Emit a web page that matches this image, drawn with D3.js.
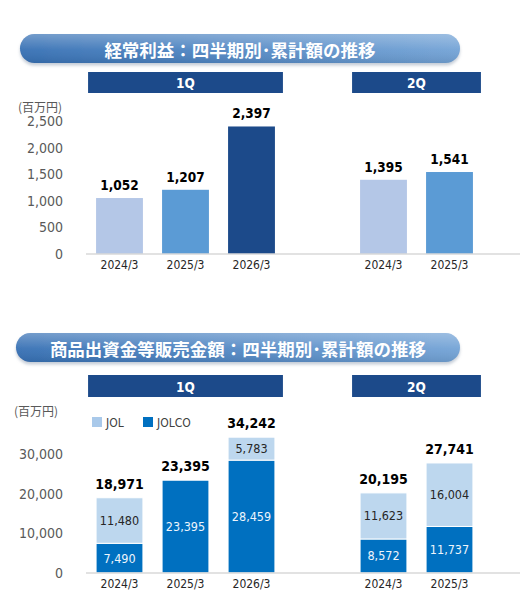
<!DOCTYPE html>
<html>
<head>
<meta charset="utf-8">
<script src="https://cdn.jsdelivr.net/npm/d3@7"></script>
<style>
  body { margin: 0; background: #fff; }
  svg { display: block; }
</style>
</head>
<body>
<svg id="chart" width="525" height="609"></svg>
<script>
// values
const quarters = ["1Q", "1Q", "1Q", "2Q", "2Q"];
const fiscalYears = ["2024/3", "2025/3", "2026/3", "2024/3", "2025/3"];
const ordinaryProfit = [1052, 1207, 2397, 1395, 1541];
const jolcoSales = [7490, 23395, 28459, 8572, 11737];
const jolSales = [11480, 0, 5783, 11623, 16004];
const salesTotals = [18971, 23395, 34242, 20195, 27741];
const profitTicks = [0, 500, 1000, 1500, 2000, 2500];
const salesTicks = [0, 10000, 20000, 30000];
const quarterNames = ["1Q", "2Q"];
const seriesNames = ["JOL", "JOLCO"];

const yearColor = { "2024/3": "#b4c7e7", "2025/3": "#5b9bd5", "2026/3": "#1c4a8a" };
const jolColor = "#bdd7ee";
const jolcoColor = "#0070c0";
const navy = "#1c4a8a";
const latin = "'DejaVu Sans Condensed', 'DejaVu Sans', sans-serif";
const cjk = "'Noto Sans CJK JP', sans-serif";
const fmt = d3.format(",");

const svg = d3.select("#chart");

// slot keys, with an empty slot between the two quarters
const keys = quarters.map((q, i) => q + "|" + fiscalYears[i]);
const slotKeys = keys.slice(0, 3).concat(["gap"], keys.slice(3));

const x = d3.scaleBand()
    .domain(slotKeys)
    .range([86.5, 482.5])
    .paddingInner(0.29)
    .paddingOuter(0.145);

// gradients and shadow for the title pills
const defs = svg.append("defs");
const g1 = defs.append("linearGradient").attr("id", "pill").attr("x1", 0).attr("x2", 1).attr("y1", 0).attr("y2", 0);
g1.append("stop").attr("offset", "0%").attr("stop-color", "#3670b4");
g1.append("stop").attr("offset", "100%").attr("stop-color", "#73a3d6");
const g2 = defs.append("linearGradient").attr("id", "shine").attr("x1", 0).attr("x2", 0).attr("y1", 0).attr("y2", 1);
g2.append("stop").attr("offset", "0%").attr("stop-color", "#fff").attr("stop-opacity", 0.3);
g2.append("stop").attr("offset", "55%").attr("stop-color", "#fff").attr("stop-opacity", 0.05);
g2.append("stop").attr("offset", "100%").attr("stop-color", "#000").attr("stop-opacity", 0.08);
defs.append("filter").attr("id", "shadow").attr("x", "-5%").attr("y", "-30%").attr("width", "110%").attr("height", "170%")
    .append("feDropShadow").attr("dx", 0).attr("dy", 2.5).attr("stdDeviation", 1.8)
    .attr("flood-color", "#7f8fa6").attr("flood-opacity", 0.45);

function drawTitle(text, x0, x1, y0, h) {
    const g = svg.append("g");
    g.append("rect")
        .attr("x", x0).attr("y", y0).attr("width", x1 - x0).attr("height", h)
        .attr("rx", h / 2).attr("fill", "url(#pill)").attr("filter", "url(#shadow)");
    g.append("rect")
        .attr("x", x0).attr("y", y0).attr("width", x1 - x0).attr("height", h)
        .attr("rx", h / 2).attr("fill", "url(#shine)");
    g.append("text")
        .attr("x", (x0 + x1) / 2).attr("y", y0 + h / 2 + 1)
        .attr("text-anchor", "middle").attr("dominant-baseline", "central")
        .attr("fill", "#fff").attr("font-family", cjk).attr("font-weight", 700)
        .attr("font-size", 17.5)
        .text(text);
}

function drawQuarterHeaders(y0, h) {
    quarterNames.forEach(q => {
        const ks = keys.filter(k => k.startsWith(q + "|"));
        const left = x(ks[0]) - 8;
        const right = x(ks[ks.length - 1]) + x.bandwidth() + 8;
        svg.append("rect")
            .attr("x", left).attr("y", y0).attr("width", right - left).attr("height", h)
            .attr("fill", navy);
        svg.append("text")
            .attr("x", (left + right) / 2).attr("y", y0 + h / 2 + 0.5)
            .attr("text-anchor", "middle").attr("dominant-baseline", "central")
            .attr("fill", "#fff").attr("font-family", latin).attr("font-weight", 700)
            .attr("font-size", 13.5)
            .text(q);
    });
}

function drawAxes(y, ticks, baseY, unitX, unitY) {
    const yAxis = d3.axisLeft(y).tickValues(ticks).tickFormat(fmt).tickSize(0).tickPadding(5);
    const ga = svg.append("g").attr("transform", "translate(68,0)").call(yAxis);
    ga.select(".domain").remove();
    ga.selectAll("text").attr("font-family", latin).attr("font-size", 14).attr("fill", "#595959");

    const xAxis = d3.axisBottom(x).tickValues(keys).tickFormat(k => k.split("|")[1]).tickSize(0).tickPadding(6);
    const gx = svg.append("g").attr("transform", `translate(0,${baseY})`).call(xAxis);
    gx.select(".domain").remove();
    gx.selectAll("text").attr("font-family", latin).attr("font-size", 12).attr("fill", "#262626");

    svg.append("line")
        .attr("x1", 86).attr("x2", 520).attr("y1", baseY).attr("y2", baseY)
        .attr("stroke", "#d9d9d9").attr("stroke-width", 1.5);

    svg.append("text")
        .attr("x", unitX).attr("y", unitY).attr("dominant-baseline", "central")
        .attr("font-family", cjk).attr("font-size", 12).attr("fill", "#595959")
        .text("(百万円)");
}

// ---------- 経常利益 ----------
drawTitle("経常利益：四半期別･累計額の推移", 20, 460, 34, 29);
drawQuarterHeaders(72, 21);

const y1 = d3.scaleLinear().domain([0, 2500]).range([254, 121]);

svg.append("g").selectAll("rect")
    .data(ordinaryProfit)
    .enter()
    .append("rect")
    .attr("x", (d, i) => x(keys[i]))
    .attr("y", d => y1(d))
    .attr("width", x.bandwidth())
    .attr("height", d => y1(0) - y1(d))
    .attr("fill", (d, i) => yearColor[fiscalYears[i]]);

svg.append("g").selectAll("text")
    .data(ordinaryProfit)
    .enter()
    .append("text")
    .attr("x", (d, i) => x(keys[i]) + x.bandwidth() / 2)
    .attr("y", d => y1(d) - 8)
    .attr("text-anchor", "middle")
    .attr("font-family", latin).attr("font-weight", 700).attr("font-size", 13.5)
    .attr("fill", "#000")
    .text(d => fmt(d));

drawAxes(y1, profitTicks, 254, 18, 106);

// ---------- 商品出資金等販売金額 ----------
drawTitle("商品出資金等販売金額：四半期別･累計額の推移", 16, 460, 333, 29);
drawQuarterHeaders(375, 22);

const y2 = d3.scaleLinear().domain([0, 30000]).range([573, 454]);

const rows = keys.map((k, i) => ({ key: k, JOLCO: jolcoSales[i], JOL: jolSales[i] }));
const stacked = d3.stack().keys(["JOLCO", "JOL"])(rows);
const segColor = { JOLCO: jolcoColor, JOL: jolColor };
const segText = { JOLCO: "#eef5fc", JOL: "#262626" };

const layers = svg.append("g").selectAll("g")
    .data(stacked)
    .enter()
    .append("g")
    .attr("fill", s => segColor[s.key]);

layers.selectAll("rect")
    .data(s => s)
    .enter()
    .append("rect")
    .attr("x", d => x(d.data.key))
    .attr("y", d => y2(d[1]))
    .attr("width", x.bandwidth())
    .attr("height", d => y2(d[0]) - y2(d[1]))
    .attr("stroke", "#fff")
    .attr("stroke-width", 1);

stacked.forEach(s => {
    svg.append("g").selectAll("text")
        .data(s.filter(d => d[1] - d[0] > 0))
        .enter()
        .append("text")
        .attr("x", d => x(d.data.key) + x.bandwidth() / 2)
        .attr("y", d => (y2(d[0]) + y2(d[1])) / 2)
        .attr("text-anchor", "middle").attr("dominant-baseline", "central")
        .attr("font-family", latin).attr("font-size", 12.5)
        .attr("fill", segText[s.key])
        .text(d => fmt(d[1] - d[0]));
});

svg.append("g").selectAll("text")
    .data(salesTotals)
    .enter()
    .append("text")
    .attr("x", (d, i) => x(keys[i]) + x.bandwidth() / 2)
    .attr("y", (d, i) => y2(jolcoSales[i] + jolSales[i]) - 9)
    .attr("text-anchor", "middle")
    .attr("font-family", latin).attr("font-weight", 700).attr("font-size", 14)
    .attr("fill", "#000")
    .text(d => fmt(d));

drawAxes(y2, salesTicks, 573, 14, 410);

// legend
const legendX = [92, 143];
seriesNames.forEach((name, i) => {
    svg.append("rect")
        .attr("x", legendX[i]).attr("y", 417).attr("width", 10).attr("height", 10)
        .attr("fill", name === "JOL" ? "#a9c9ea" : jolcoColor);
    svg.append("text")
        .attr("x", legendX[i] + 14).attr("y", 422.5).attr("dominant-baseline", "central")
        .attr("font-family", latin).attr("font-size", 12).attr("fill", "#404040")
        .text(name);
});
</script>
</body>
</html>
